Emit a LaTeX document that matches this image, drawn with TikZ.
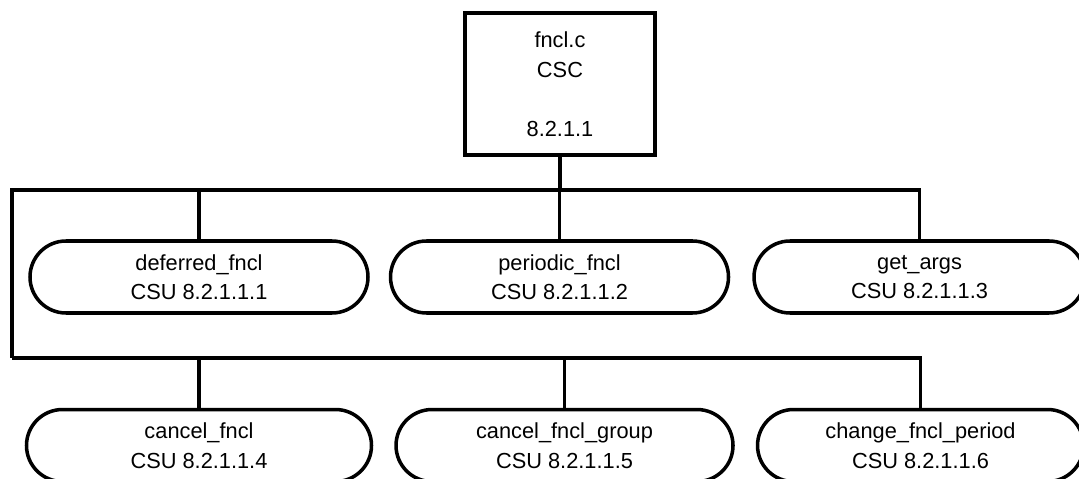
\documentclass[tikz,border=0pt]{standalone}
\usepackage{fontspec}
\setmainfont{Liberation Sans}
\usetikzlibrary{shapes.misc,positioning}

\begin{document}
\begin{tikzpicture}
        \tikzstyle{csc node}=[draw,line width=2.5pt,minimum width=4.75cm,minimum height=3.55cm,align=center,font=\fontsize{15.5}{21}\selectfont]
        \tikzstyle{csu node}=[draw,rounded rectangle,line width=2.5pt,minimum height=1.8cm,inner sep=0pt,align=center,font=\fontsize{15.5}{21}\selectfont]
        \tikzstyle{link}=[line width=2.5pt]
        \useasboundingbox (0,0) rectangle (26.975,11.975);

        \node[csc node] (fncl) at (14.0,9.875) {fncl.c\\CSC\\[21pt]8.2.1.1};
        \node[csu node,minimum width=8.45cm] (deferred) at (4.975,5.05) {deferred\_fncl\\CSU 8.2.1.1.1};
        \node[csu node,minimum width=8.45cm] (periodic) [right=0.475cm of deferred] {periodic\_fncl\\CSU 8.2.1.1.2};
        \node[csu node,minimum width=8.275cm] (getargs) [right=0.55cm of periodic] {get\_args\\CSU 8.2.1.1.3};
        \node[csu node,minimum width=8.625cm] (cancel) [below=2.325cm of deferred] {cancel\_fncl\\CSU 8.2.1.1.4};
        \node[csu node,minimum width=8.425cm] (group) [right=0.525cm of cancel] {cancel\_fncl\_group\\CSU 8.2.1.1.5};
        \node[csu node,minimum width=8.15cm] (period) [right=0.525cm of group] {change\_fncl\_period\\CSU 8.2.1.1.6};

        \coordinate (bustop) at (0.3,7.225);
        \coordinate (busbot) at (0.3,3.025);

        \draw[link] (fncl.south) -- (fncl.south |- bustop);
        \draw[link] (busbot) -- (bustop) -- (bustop -| getargs.north) -- (getargs.north);
        \draw[link] (deferred.north) -- (deferred.north |- bustop);
        \draw[link] (periodic.north) -- (periodic.north |- bustop);
        \draw[link] (busbot) -- (busbot -| period.north) -- (period.north);
        \draw[link] (cancel.north) -- (cancel.north |- busbot);
        \draw[link] (group.north) -- (group.north |- busbot);
    \end{tikzpicture}
\end{document}
